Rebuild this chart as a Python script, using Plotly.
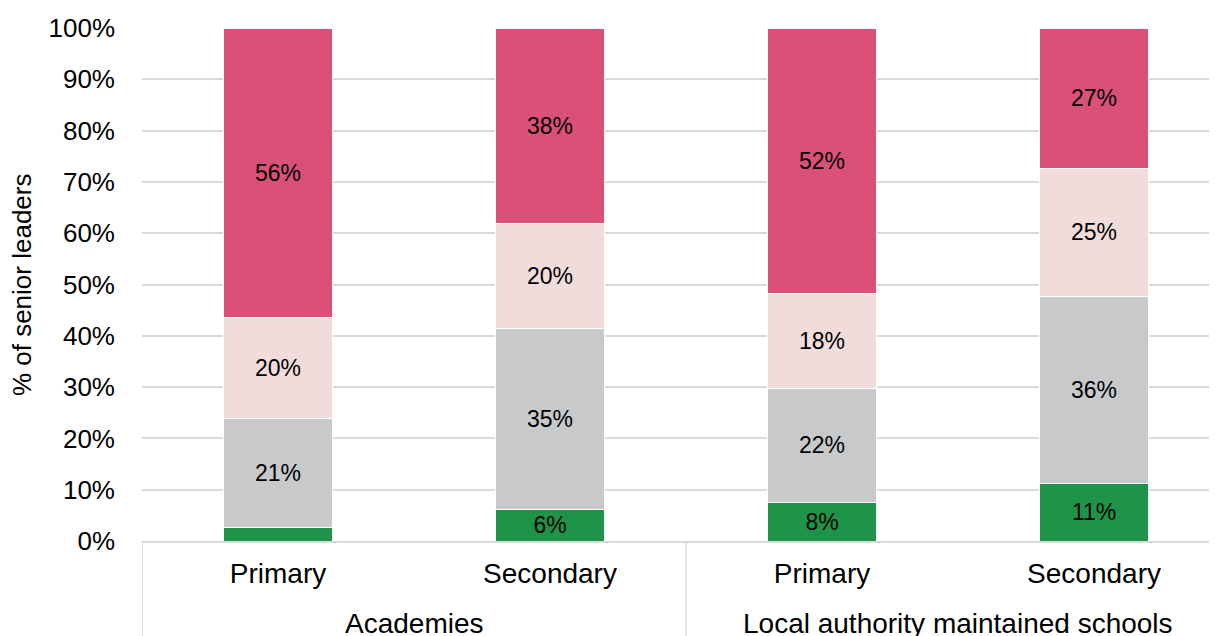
import plotly.graph_objects as go

groups = ["Academies", "Academies",
          "Local authority maintained schools", "Local authority maintained schools"]
phases = ["Primary", "Secondary", "Primary", "Secondary"]

series_names = ["Green", "Grey", "Light pink", "Pink"]
green = [2.7, 6.2, 7.6, 11.3]
grey = [21.1, 35.2, 22.2, 36.3]
light_pink = [19.8, 20.4, 18.5, 25.1]
pink = [56.4, 38.2, 51.7, 27.3]
colors = ["#1e9448", "#c8c9cb", "#f2dcdb", "#db5078"]
hide_label = [(0, 0)]  # (series, bar) pairs with no data label

# unique category keys, shown as phase names on the axis
keys = [f"{g} | {p}" for g, p in zip(groups, phases)]

fig = go.Figure()
for s, (name, vals, col) in enumerate(zip(series_names, [green, grey, light_pink, pink], colors)):
    labels = ["" if (s, i) in hide_label else f"{round(v)}%" for i, v in enumerate(vals)]
    fig.add_trace(
        go.Bar(
            x=keys,
            y=vals,
            name=name,
            marker=dict(color=col, line=dict(color="white", width=1)),
            text=labels,
            textposition="inside",
            insidetextanchor="middle",
            textangle=0,
            constraintext="none",
            textfont=dict(family="Liberation Sans", size=23, color="black"),
            customdata=groups,
            hovertemplate="%{customdata}<br>%{x}<br>%{y:.1f}%<extra></extra>",
        )
    )

# group labels and dividers under the phase labels
group_names = list(dict.fromkeys(groups))
for g in group_names:
    idx = [i for i, gg in enumerate(groups) if gg == g]
    fig.add_annotation(
        x=sum(idx) / len(idx), xref="x", y=-0.16, yref="paper",
        text=g, showarrow=False, yanchor="middle",
        font=dict(size=28, color="black"),
    )
    fig.add_shape(
        type="line", xref="x", yref="paper",
        x0=idx[0] - 0.5, x1=idx[0] - 0.5, y0=0, y1=-0.25,
        line=dict(color="#d9d9d9", width=1.5),
    )

# y axis title
fig.add_annotation(
    x=-0.112, xref="paper", y=0.5, yref="paper",
    text="% of senior leaders", textangle=-90, showarrow=False,
    xanchor="center", yanchor="middle",
    font=dict(size=26, color="black"),
)

fig.update_layout(
    barmode="stack",
    bargap=0.6,
    width=1217,
    height=636,
    margin=dict(l=134, r=8, t=20, b=103),
    plot_bgcolor="white",
    paper_bgcolor="white",
    showlegend=False,
    font=dict(family="Liberation Sans", size=26, color="black"),
)
fig.update_yaxes(
    range=[0, 100],
    dtick=10,
    ticksuffix="%",
    showgrid=True,
    gridcolor="#d9d9d9",
    gridwidth=1.5,
    zeroline=False,
    automargin=False,
    ticklabelstandoff=26,
    tickfont=dict(size=26),
)
fig.update_xaxes(
    type="category",
    range=[-0.5, 3.452],
    tickvals=keys,
    ticktext=phases,
    automargin=False,
    showline=True,
    linecolor="#d9d9d9",
    linewidth=1.5,
    ticklabelstandoff=7,
    tickfont=dict(size=28),
)

fig.write_html("out.html")
